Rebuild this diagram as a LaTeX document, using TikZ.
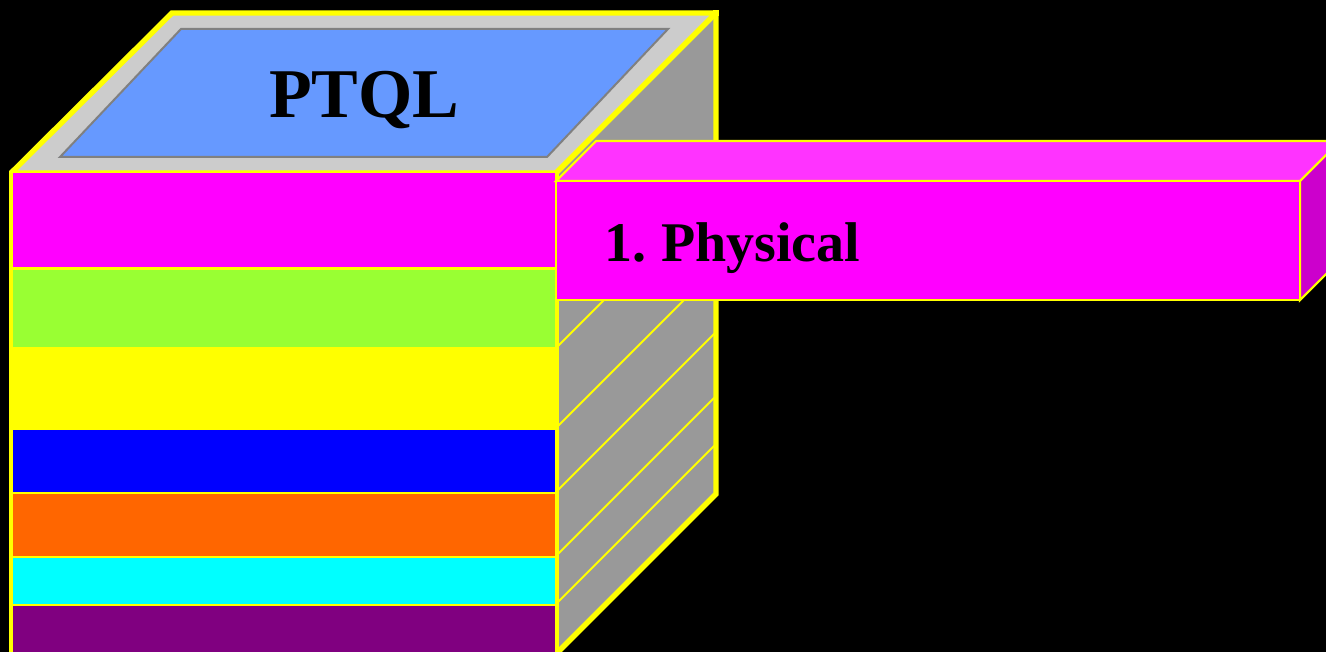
\documentclass[tikz,border=0pt]{standalone}
\usepackage{fontspec}
\setmainfont{Liberation Serif}
\definecolor{topgrey}{HTML}{CCCCCC}
\definecolor{sidegrey}{HTML}{999999}
\definecolor{edgegrey}{HTML}{808080}
\definecolor{panelblue}{HTML}{6699FF}
\definecolor{bandmagenta}{HTML}{FF00FF}
\definecolor{bandlime}{HTML}{99FF33}
\definecolor{bandyellow}{HTML}{FFFF00}
\definecolor{bandblue}{HTML}{0000FF}
\definecolor{bandorange}{HTML}{FF6600}
\definecolor{bandcyan}{HTML}{00FFFF}
\definecolor{bandpurple}{HTML}{800080}
\definecolor{boxtop}{HTML}{FF33FF}
\definecolor{boxside}{HTML}{CC00CC}
\tikzset{
  thickedge/.style={draw=bandyellow,line width=4pt,line join=miter,miter limit=2},
  hatchline/.style={draw=bandyellow,line width=1.5pt},
  band/.style={draw=bandyellow,line width=1.6pt},
  sideedge/.style={draw=bandyellow,line width=3pt},
  boxedge/.style={draw=bandyellow,line width=1.6pt,line join=miter},
  inner/.style={draw=edgegrey,line width=1.5pt,fill=panelblue,line join=miter},
  label/.style={text=black,inner sep=0pt,anchor=base west}
}
\begin{document}
\begin{tikzpicture}[x=0.75pt,y=-0.75pt]
\useasboundingbox (0,0) rectangle (1326,652);
\clip (0,0) rectangle (1326,652);
\fill[black] (0,0) rectangle (1326,652);
% cube side
\fill[sidegrey] (556,173) -- (716,13) -- (716,494) -- (556,654) -- cycle;
\foreach \ya/\yb in {348/188,428/268,492/332,556/396,604/444}
  \draw[hatchline] (556,\ya) -- (716,\yb);
\draw[thickedge] (716,13) -- (716,494) -- (556,654);
% cube top
\draw[thickedge,fill=topgrey] (11,173) -- (172,13) -- (716,13) -- (556,173) -- cycle;
\fill[bandyellow] (713.4,10.4) rectangle (718.6,16);
\draw[inner] (181,29) -- (668,29) -- (547,157) -- (60,157) -- cycle;
% front bands
\draw[band,fill=bandmagenta] (11,172) rectangle (556,268.5);
\draw[band,fill=bandlime] (11,268.5) rectangle (556,348);
\draw[band,draw=none,fill=bandyellow] (11,348) rectangle (556,430);
\draw[band,draw=none,fill=bandblue] (11,430) rectangle (556,493);
\draw[band,fill=bandorange] (11,493) rectangle (556,557);
\draw[band,fill=bandcyan] (11,557) rectangle (556,605);
\draw[band,fill=bandpurple] (11,605) rectangle (556,660);
\draw[sideedge] (11.2,171) -- (11.2,660);
\draw[sideedge] (557,172) -- (557,660);
% physical box
\draw[boxedge,fill=boxtop] (556,181) -- (596,141) -- (1340,141) -- (1300,181) -- cycle;
\draw[boxedge,fill=boxside] (1300,181) -- (1340,141) -- (1340,260) -- (1300,300) -- cycle;
\draw[boxedge,fill=bandmagenta] (556,181) rectangle (1300,300);
% labels
\node[label,font=\bfseries\fontsize{52.4}{60}\selectfont] (ptql) at (269,118) {PTQL};
\node[label,font=\bfseries\fontsize{42}{50}\selectfont] (phys) at (604.5,261) {1.\hspace{0.26em}Physical};
\end{tikzpicture}
\end{document}
